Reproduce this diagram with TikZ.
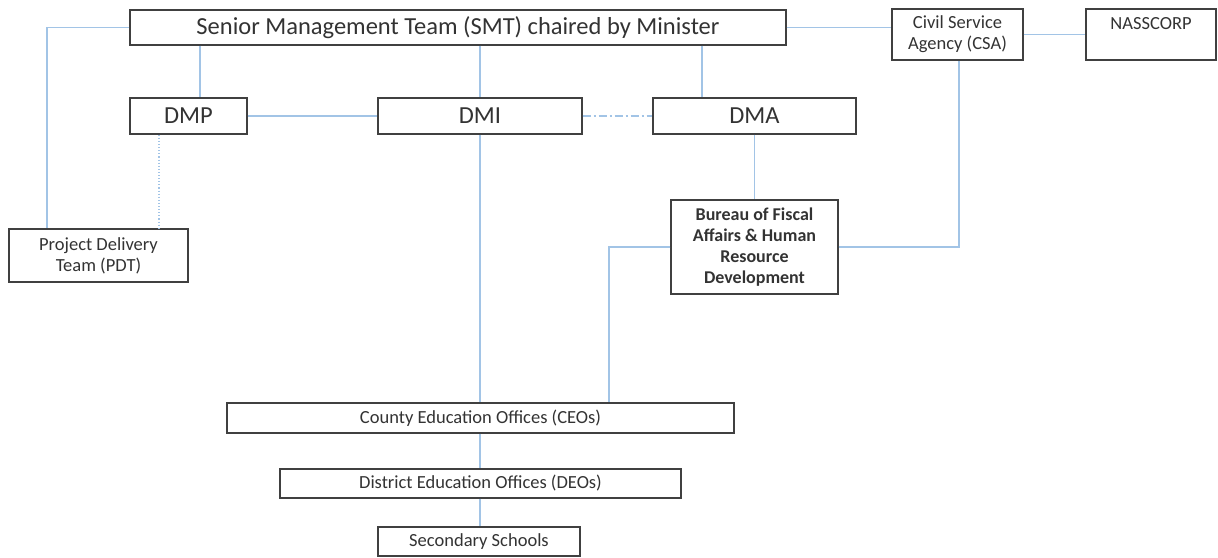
\documentclass[tikz,border=0pt]{standalone}
\usepackage{fontspec}
\setmainfont{Carlito}
\definecolor{linkblue}{RGB}{162,196,230}
\begin{document}
\begin{tikzpicture}[x=1pt,y=-1pt,
  box/.style={draw=black!75,line width=1.4pt,fill=white,text=black!80,inner sep=0pt,align=center},
  link/.style={draw=linkblue,line width=1.1pt},
  big/.style={font=\fontsize{24.5}{28}\selectfont},
  small/.style={font=\fontsize{18.5}{21}\selectfont}]
\useasboundingbox (0,0) rectangle (1218,557);
% boxes
\node[box,big,minimum width=656pt,minimum height=35pt] (smt) at (458,27.5) {Senior Management Team (SMT) chaired by Minister};
\node[box,big,minimum width=117pt,minimum height=36pt] (dmp) at (188.5,116) {DMP};
\node[box,big,minimum width=204pt,minimum height=36pt] (dmi) at (480,116) {DMI};
\node[box,big,minimum width=203pt,minimum height=36pt] (dma) at (754.5,116) {DMA};
\node[box,small,minimum width=131pt,minimum height=51pt] (csa) at (957.5,34.5) {Civil Service\\Agency (CSA)};
\node[box,minimum width=130pt,minimum height=51pt] (nas) at (1151,34.5) {};
\node[small,text=black!80,anchor=north] (nastxt) at (1151,14) {NASSCORP};
\node[box,small,minimum width=179pt,minimum height=53pt] (pdt) at (98.5,255.5) {Project Delivery\\Team (PDT)};
\node[box,font=\fontsize{18}{21}\selectfont\bfseries,minimum width=167pt,minimum height=94pt] (bur) at (754.5,247) {Bureau of Fiscal\\Affairs \& Human\\Resource\\Development};
\node[box,small,minimum width=507pt,minimum height=30pt] (ceo) at (480.5,418) {County Education Offices (CEOs)};
\node[box,small,minimum width=401pt,minimum height=29pt] (deo) at (480.5,483.5) {District Education Offices (DEOs)};
\node[box,small,minimum width=202pt,minimum height=29pt] (sec) at (479,541.5) {Secondary Schools};
% connectors
\draw[link] (smt.west) -- (47,27.5) -- (47,0 |- pdt.north);
\draw[link] (200,0 |- smt.south) -- (200,0 |- dmp.north);
\draw[link] (480,0 |- smt.south) -- (dmi.north);
\draw[link] (702,0 |- smt.south) -- (702,0 |- dma.north);
\draw[link] (smt.east) -- (csa.west |- smt.east);
\draw[link] (csa.east) -- (nas.west);
\draw[link] (dmp.east) -- (dmi.west);
\draw[link,dash pattern=on 8pt off 3pt on 2pt off 3pt] (dmi.east) -- (dma.west);
\draw[link,dotted] (159,0 |- dmp.south) -- (159,0 |- pdt.north);
\draw[link] (dmi.south) -- (ceo.north -| dmi.south);
\draw[link] (dma.south) -- (bur.north);
\draw[link] (bur.west) -- (609,247) -- (609,0 |- ceo.north);
\draw[link] (bur.east) -- (959,247) -- (959,0 |- csa.south);
\draw[link] (ceo.south -| 480,0) -- (deo.north -| 480,0);
\draw[link] (deo.south -| 480,0) -- (sec.north -| 480,0);
\end{tikzpicture}
\end{document}
